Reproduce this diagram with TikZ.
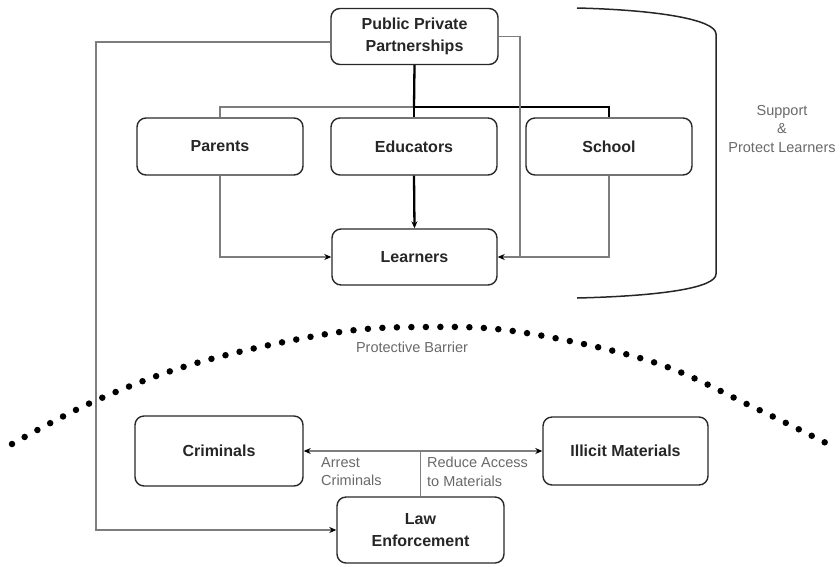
\documentclass[tikz,border=0pt]{standalone}
\usepackage{fontspec}
\setmainfont{Liberation Sans}
\usetikzlibrary{arrows.meta}
\definecolor{boxline}{RGB}{40,40,40}
\definecolor{conn}{RGB}{125,125,125}
\definecolor{lbltext}{RGB}{105,105,105}
\tikzset{
  box/.style={draw=boxline, line width=1.4pt, rounded corners=9pt, inner sep=0pt,
    align=center, text=black!85, font=\fontsize{16}{22}\selectfont\bfseries},
  thinconn/.style={draw=conn, line width=1.2pt},
  thickconn/.style={draw=black, line width=2.3pt},
  tip/.style={-{Stealth[length=7pt,width=6pt,color=black]}},
  tips/.style={{Stealth[length=7pt,width=6pt,color=black]}-{Stealth[length=7pt,width=6pt,color=black]}},
  lbl/.style={text=lbltext, inner sep=0pt, font=\fontsize{14.5}{18.5}\selectfont},
  barrier/.style={line width=6.5pt, line cap=round, dash pattern=on 0pt off 14.5pt},
  bracket/.style={draw=black!85, line width=1.5pt}
}
\begin{document}
\begin{tikzpicture}[x=1pt,y=-1pt]
\useasboundingbox (0,0) rectangle (840,566);

% boxes
\node[box, minimum width=167pt, minimum height=56pt] (ppp) at (414.5,36.5) {Public Private\\Partnerships};
\node[box, minimum width=166pt, minimum height=57pt] (parents) at (220,146.5) {Parents};
\node[box, minimum width=166pt, minimum height=57pt] (edu) at (414,146.5) {Educators};
\node[box, minimum width=166pt, minimum height=57pt] (school) at (609,146.5) {School};
\node[box, minimum width=165pt, minimum height=56pt] (learn) at (414.5,257) {Learners};
\node[box, minimum width=168pt, minimum height=70pt] (crim) at (219,451) {Criminals};
\node[box, minimum width=165pt, minimum height=68pt] (illicit) at (625.5,451) {Illicit Materials};
\node[box, minimum width=167pt, minimum height=66pt] (law) at (420.5,530) {Law\\Enforcement};

% junctions
\coordinate (j) at (414,107);
\coordinate (cl) at (96,530);
\coordinate (cr) at (520,257);
\coordinate (cb) at (420.5,451);

% top tree
\draw[thinconn] (j) -| (parents.north);
\draw[thickconn] (ppp.south) -- (j);
\draw[thickconn] (j) -- (edu.north);
\draw[thickconn] (j) -| (school.north);
\draw[thickconn, tip] (edu.south) -- (learn.north);
\draw[thinconn, tip] (parents.south) |- (learn.west);
\draw[thinconn] (school.south) |- (cr);
\draw[thinconn, tip] (ppp.east) -| (cr) -- (learn.east);
\draw[thinconn, tip] ([yshift=-5.5pt]ppp.west) -| (cl) -- (law.west);

% bottom
\draw[thinconn] (law.north) -- (cb);
\draw[thinconn, tip] (cb) -- (crim.east);
\draw[thinconn, tip] (cb) -- (illicit.west);
\node[lbl, anchor=north west, align=left] (arrest) at (321,457) {Arrest\\Criminals};
\node[lbl, anchor=north west, align=left] (reduce) at (427,457) {Reduce Access\\to Materials};

% bracket
\draw[bracket] (577,8) .. controls (660,10) and (716,20) .. (716,34) -- (716,274) .. controls (716,288) and (660,296) .. (577,298);
\node[lbl, align=center] (support) at (782,129) {Support\\\&\\Protect Learners};

% protective barrier
\draw[barrier] plot[smooth, tension=0.6] coordinates {(12,444) (97,400) (200,362) (333,333) (426,327) (520,332) (653,362) (753,407) (830,445)};
\node[lbl] (pb) at (412,347) {Protective Barrier};
\end{tikzpicture}
\end{document}
